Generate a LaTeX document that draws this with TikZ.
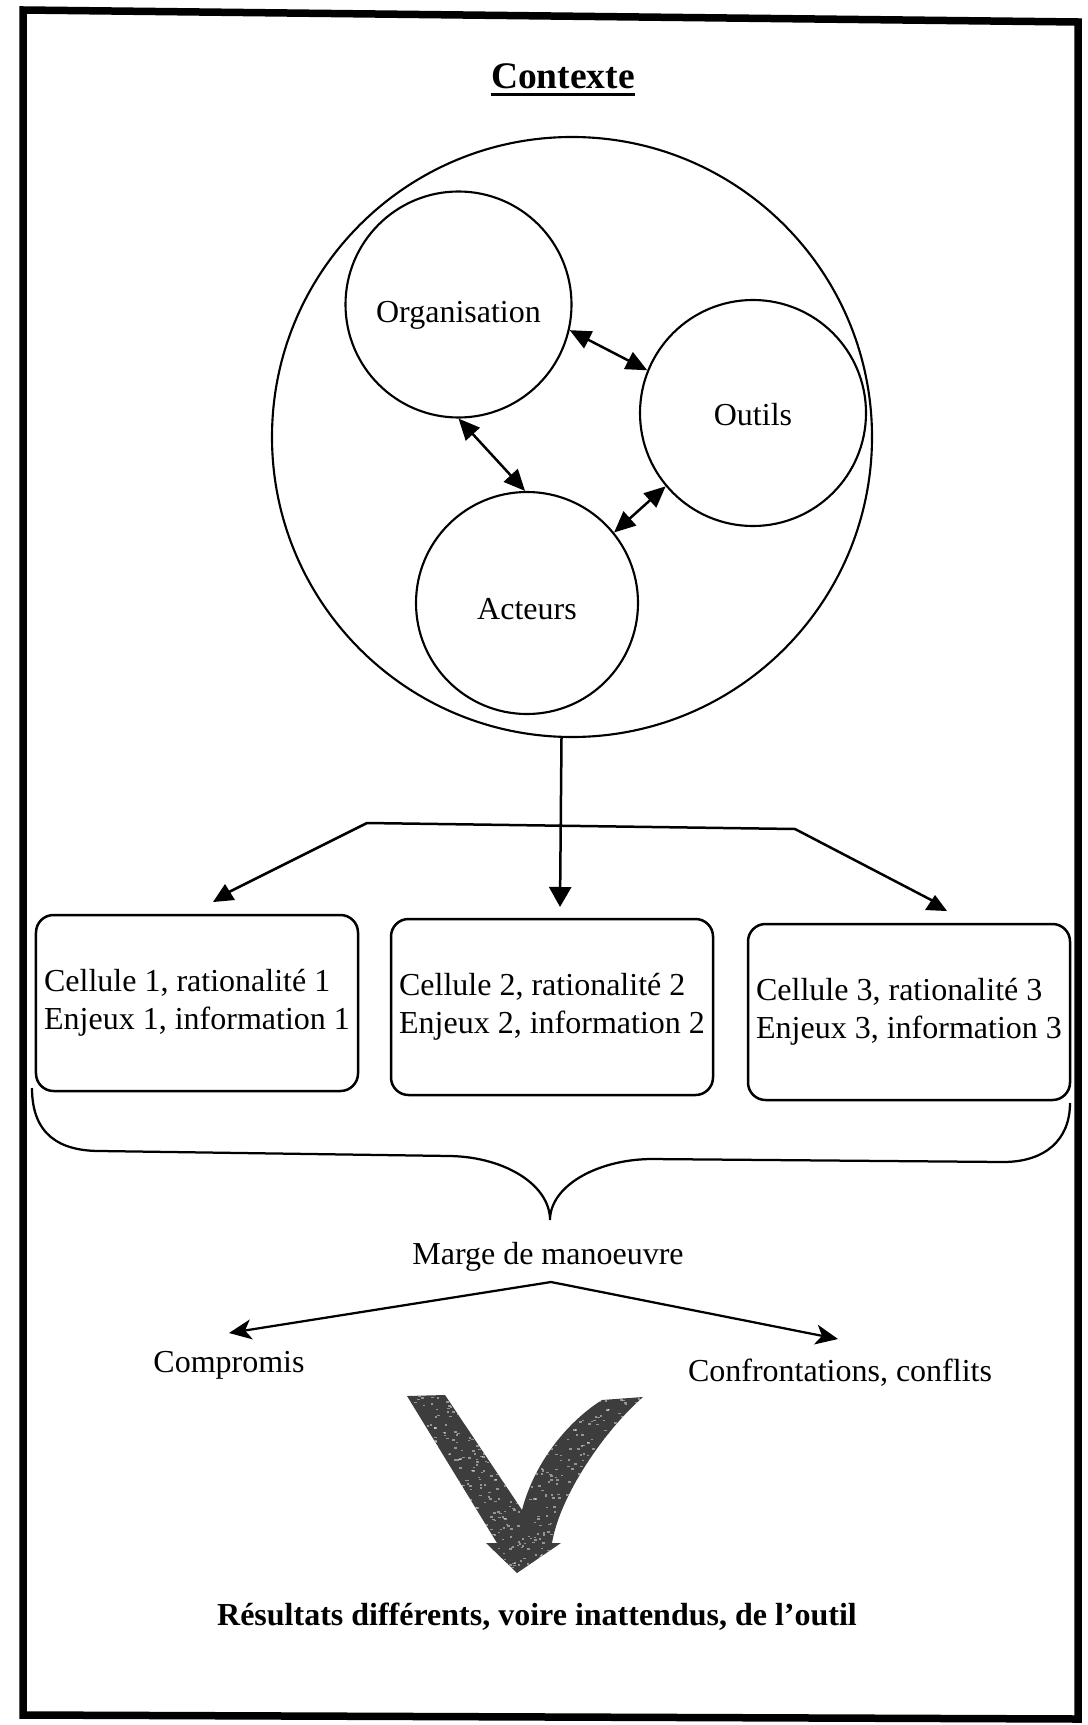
\documentclass[tikz,border=0pt]{standalone}
\usepackage{fontspec}
\setmainfont{Liberation Serif}
\usetikzlibrary{arrows.meta}
\newcommand{\ringtext}[2]{\raisebox{-#1}[0pt][0pt]{#2}}
\begin{document}
\begin{tikzpicture}[x=0.4pt,y=-0.4pt,
  every node/.style={font=\fontsize{12.8pt}{15.4pt}\selectfont},
  ring/.style={draw,circle,line width=0.85pt,inner sep=0pt},
  cellbox/.style={draw,rounded corners=7pt,line width=1pt,minimum width=128.8pt,
                  minimum height=70.4pt,align=left,inner sep=2pt},
  link/.style={line width=1pt},
  biarrow/.style={link,{Triangle[length=8.5pt,width=7.5pt]}-{Triangle[length=8.5pt,width=7.5pt]}},
  downarrow/.style={link,-{Triangle[length=8pt,width=8.8pt]}},
  branch/.style={line width=0.9pt,-{Stealth[length=9pt,width=8pt,inset=2.5pt]}},
  boldtext/.style={font=\fontsize{12.8pt}{15.4pt}\selectfont\bfseries},
]
\useasboundingbox (0,0) rectangle (1087,1725);

% outer frame
\draw[line width=3pt] (23,10) -- (1078,22) -- (1078,1719) -- (23,1715) -- cycle;

% title
\node[font=\fontsize{15pt}{18pt}\selectfont\bfseries,inner sep=0pt] (title) at (563,76) {Contexte};
\draw[line width=1.2pt] ([yshift=-2.4pt]title.base west) -- ([yshift=-2.4pt]title.base east);

% context circle and its three components
\node[ring,minimum size=240pt] (ctx) at (572,437) {};
\node[ring,minimum size=90.4pt] (org) at (458.5,304.5) {\ringtext{7.2pt}{Organisation}};
\node[ring,minimum size=90.4pt] (out) at (753,413) {\ringtext{4.8pt}{Outils}};
\node[ring,minimum size=88.8pt] (act) at (527,603) {\ringtext{6.6pt}{Acteurs}};

\draw[biarrow] (org.-13.5) -- (out.158.6);
\draw[biarrow] (org.-90) -- (act.91.6);
\draw[biarrow] (out.220.7) -- (act.39.8);

% distribution towards the cells
\coordinate (jl) at (367,823);
\coordinate (jr) at (795,829);
\coordinate (tip1) at (229,892);
\coordinate (tip2) at (560,907);
\coordinate (tip3) at (937,903);
\draw[link] (tip1) -- (jl) -- (jr) -- (tip3);
\draw[downarrow] (ctx.-92.3) -- (tip2);
\fill ([shift={(-4,-8)}]tip1) -- ([shift={(-16,10)}]tip1) -- ([shift={(6,8)}]tip1) -- cycle;
\fill ([shift={(-2,-8)}]tip3) -- ([shift={(-12,7)}]tip3) -- ([shift={(10,8)}]tip3) -- cycle;

% cells
\node[cellbox] (c1) at (197,1003) {Cellule 1, rationalité 1\\Enjeux 1, information 1};
\node[cellbox] (c2) at (552,1007) {Cellule 2, rationalité 2\\Enjeux 2, information 2};
\node[cellbox] (c3) at (909,1012) {Cellule 3, rationalité 3\\Enjeux 3, information 3};

% brace under the cells
\draw[line width=0.9pt] (32,1088) .. controls (32,1135) and (60,1151) .. (100,1151)
  -- (450,1156) .. controls (505,1157) and (550,1185) .. (550,1220)
  .. controls (550,1187) and (595,1160) .. (650,1159)
  -- (1003,1162) .. controls (1045,1162) and (1070,1140) .. (1070,1103);

% room for manoeuvre and its two outcomes
\node (marge) at (548,1257) {Marge de manoeuvre};
\coordinate (fork) at (551,1282);
\coordinate (lt) at (229,1333);
\coordinate (rt) at (838,1339);
\node (comp) at (229,1365) {Compromis};
\node (conf) at (840,1373) {Confrontations, conflits};
\draw[branch] (fork) -- (lt);
\draw[branch] (fork) -- (rt);

% large grained V arrow
\begin{scope}
  \clip (407,1396) -- (497,1543) -- (486,1543) -- (517,1573) -- (561,1543) -- (552,1543)
    .. controls (560,1495) and (605,1430) .. (643,1397) -- (602,1400)
    .. controls (570,1420) and (535,1460) .. (522,1510) -- (445,1395) -- cycle;
  \fill[black!76] (400,1388) rectangle (650,1580);
  \pgfmathsetseed{7}
  \foreach \i in {1,...,900} {
    \fill[white,opacity=0.45] ({400+250*rnd},{1388+190*rnd}) rectangle ++(2.5,1.5);
  }
\end{scope}

% result
\node[boldtext] (res) at (537,1617) {Résultats différents, voire inattendus, de l’outil};
\end{tikzpicture}
\end{document}
